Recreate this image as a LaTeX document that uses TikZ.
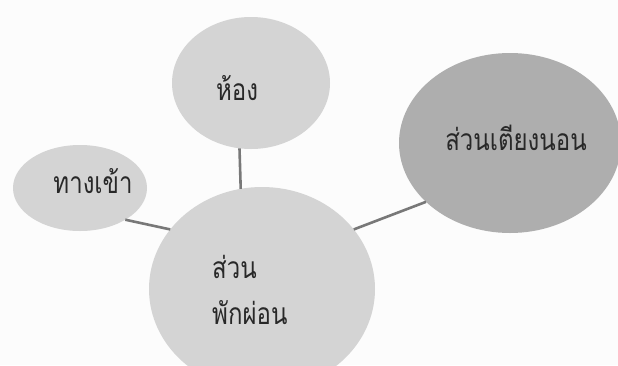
\documentclass[tikz,border=0pt]{standalone}
\usepackage{fontspec}
\newfontfamily\thaifont[Script=Thai,FakeStretch=0.8]{Loma}
\usetikzlibrary{shapes.geometric}
\definecolor{bgc}{RGB}{252,252,252}
\definecolor{lightfill}{RGB}{212,212,212}
\definecolor{darkfill}{RGB}{174,174,174}
\definecolor{linkc}{RGB}{120,120,120}
\definecolor{textc}{RGB}{40,40,40}
\tikzset{
  bubble/.style={ellipse, inner sep=0pt, outer sep=0pt, draw=none, fill=lightfill},
  darkbubble/.style={bubble, fill=darkfill},
  label/.style={inner sep=0pt, anchor=base, text=textc, font=\thaifont\fontsize{30}{34}\selectfont},
  leftlabel/.style={label, anchor=base west},
  link/.style={draw=linkc, line width=2.6pt}
}
\begin{document}
\begin{tikzpicture}[x=1pt,y=-1pt]
\fill[bgc] (0,0) rectangle (618,365);
\useasboundingbox (0,0) rectangle (618,365);
\node[bubble, minimum width=158pt, minimum height=132pt] (hong) at (251,83) {};
\node[darkbubble, minimum width=222pt, minimum height=180pt] (bed) at (510,143) {};
\node[bubble, minimum width=134pt, minimum height=86pt] (entry) at (80,188) {};
\node[bubble, minimum width=226pt, minimum height=204pt] (rest) at (262,289) {};
\draw[link] (hong.260) -- (rest.102);
\draw[link] (entry.-35) -- (rest.147);
\draw[link] (bed.215) -- (rest.33);
\node[label] (hongtext) at (237,100) {ห้อง};
\node[label] (bedtext) at (516,150) {ส่วนเตียงนอน};
\node[label] (entrytext) at (93,193) {ทางเข้า};
\node[leftlabel] (resttext1) at (212,278) {ส่วน};
\node[leftlabel] (resttext2) at (212,324) {พักผ่อน};
\end{tikzpicture}
\end{document}
